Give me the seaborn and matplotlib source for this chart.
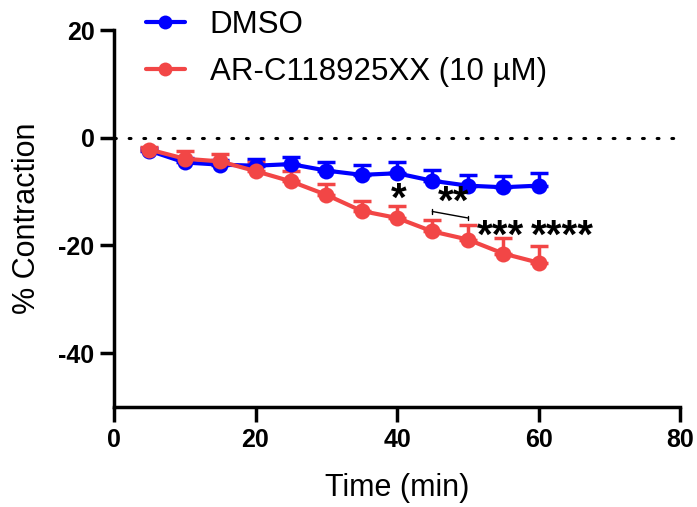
import numpy as np
import pandas as pd
import matplotlib
matplotlib.use("Agg")
import matplotlib.pyplot as plt
import seaborn as sns

# Time course (min) and mean % contraction with SEM for each condition
time_min = [5, 10, 15, 20, 25, 30, 35, 40, 45, 50, 55, 60]
dmso_mean = [-2.4, -4.6, -5.0, -5.2, -4.9, -6.1, -6.9, -6.6, -8.0, -8.9, -9.2, -8.9]
dmso_sem = [0.4, 0.8, 0.8, 1.2, 1.3, 1.5, 1.9, 2.0, 2.0, 2.0, 2.1, 2.3]
arc_mean = [-2.2, -3.9, -4.4, -6.2, -8.1, -10.6, -13.6, -14.9, -17.4, -18.9, -21.5, -23.2]
arc_sem = [0.4, 1.4, 1.4, 1.6, 2.0, 2.0, 1.8, 2.2, 2.1, 2.7, 2.8, 3.1]

group_names = ["DMSO", "AR-C118925XX (10 µM)"]
group_colors = ["#0000FF", "#F24646"]

# Significance marks: (x, y, label)
sig_labels = ["*", "**", "***", "****"]
sig_x = [40.2, 48.0, 54.6, 63.4]
sig_y = [-11.5, -12.1, -18.4, -18.4]

df = pd.DataFrame({
    "Time": time_min * 2,
    "Contraction": dmso_mean + arc_mean,
    "Group": [group_names[0]] * len(time_min) + [group_names[1]] * len(time_min),
})

sns.set_theme(style="ticks")
plt.rcParams["font.family"] = ["Liberation Sans", "DejaVu Sans"]
plt.rcParams["text.color"] = "black"
plt.rcParams["axes.labelcolor"] = "black"
plt.rcParams["xtick.color"] = "black"
plt.rcParams["ytick.color"] = "black"

fig = plt.figure(figsize=(6.97, 5.07), dpi=100)
ax = fig.add_axes([114 / 697, 1 - 407 / 507, (680 - 114) / 697, (407 - 30) / 507])

# Zero reference line
ax.plot([0, 80], [0, 0], color="black", linestyle=(0, (0.6, 4.2)), linewidth=2.2,
        dash_capstyle="round", zorder=1)

palette = dict(zip(group_names, group_colors))
for name, mean, sem in zip(group_names, [dmso_mean, arc_mean], [dmso_sem, arc_sem]):
    ax.errorbar(time_min, mean, yerr=[np.zeros(len(sem)), sem], fmt="none",
                ecolor=palette[name], elinewidth=2.5, capsize=6.5, capthick=2.5, zorder=2)

sns.lineplot(data=df, x="Time", y="Contraction", hue="Group", palette=palette,
             hue_order=group_names, marker="o", markersize=11.5, markeredgewidth=0,
             linewidth=3, ax=ax, legend=False, zorder=3)

for lab, xx, yy in zip(sig_labels, sig_x, sig_y):
    ax.text(xx, yy, lab, ha="center", va="center", fontsize=29, fontweight="bold",
            color="black", zorder=5)

# Bracket between 45 and 50 min
ax.plot([45, 50], [-13.7, -14.9], color="black", linewidth=1, zorder=4)
ax.plot([45, 45], [-13.3, -14.1], color="black", linewidth=1, zorder=4)
ax.plot([50, 50], [-14.5, -15.3], color="black", linewidth=1, zorder=4)

ax.set_xlim(0, 80)
ax.set_ylim(-50, 20)
ax.set_xticks([0, 20, 40, 60, 80])
ax.set_yticks([20, 0, -20, -40])
ax.set_yticklabels(["20", "0", "-20", "-40"])
for lab in ax.get_xticklabels() + ax.get_yticklabels():
    lab.set_fontweight("bold")
ax.tick_params(axis="both", labelsize=18, width=2.5, length=10, color="black",
               labelcolor="black", pad=4)
ax.tick_params(axis="x", length=11)

for side in ["top", "right"]:
    ax.spines[side].set_visible(False)
for side in ["left", "bottom"]:
    ax.spines[side].set_linewidth(2.5)
    ax.spines[side].set_color("black")

ax.set_xlabel("Time (min)", fontsize=22, labelpad=15, color="black")
ax.set_ylabel("% Contraction", fontsize=22, labelpad=12, color="black")

handles = [plt.Line2D([0], [0], color=c, marker="o", markersize=10, linewidth=3,
                      markeredgewidth=0) for c in group_colors]
fig.legend(handles, group_names, loc="upper left", bbox_to_anchor=(133 / 697, 1.005),
           frameon=False, fontsize=22.5, handlelength=1.25, handletextpad=0.8,
           labelspacing=0.55, borderaxespad=0.0, labelcolor="black")

fig.savefig("out.png", dpi=100)
